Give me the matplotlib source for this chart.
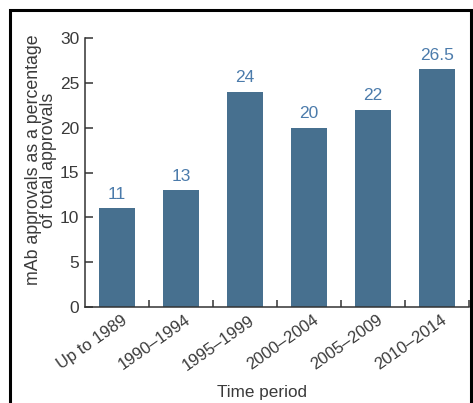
import matplotlib
matplotlib.use("Agg")
import matplotlib.pyplot as plt
from matplotlib.patches import Rectangle
from matplotlib.transforms import ScaledTranslation

categories = ["Up to 1989", "1990–1994", "1995–1999", "2000–2004", "2005–2009", "2010–2014"]
values = [11, 13, 24, 20, 22, 26.5]
value_labels = ["11", "13", "24", "20", "22", "26.5"]
yticks = [0, 5, 10, 15, 20, 25, 30]

plt.rcParams['font.family'] = ['Liberation Sans', 'DejaVu Sans']

fig = plt.figure(figsize=(4.73, 4.03), dpi=100)
ax = fig.add_axes([85/473, 1-307/403, (469-85)/473, (307-38)/403])

x = list(range(len(categories)))
ax.bar(x, values, width=0.56, color="#47708f")
for xi, v, lab in zip(x, values, value_labels):
    ax.text(xi, v + 0.75, lab, ha="center", va="bottom", color="#4b7bab", fontsize=12.5)

ax.set_xlim(-0.5, 5.5)
ax.set_ylim(0, 30)
ax.set_yticks(yticks)
ax.set_yticklabels([str(t) for t in yticks])
ax.set_xticks(x)
ax.set_xticklabels(categories, rotation=35, ha="right", rotation_mode="anchor")
ax.set_xticks([i + 0.5 for i in x], minor=True)
ax.tick_params(axis="x", which="major", length=0, pad=4, labelsize=12, labelcolor="#3a3a3a")
ax.tick_params(axis="x", which="minor", length=5, direction="in", color="#333333", width=1.1)
ax.tick_params(axis="y", length=6, direction="in", color="#333333", width=1.1, pad=4,
               labelsize=12.5, labelcolor="#3a3a3a")
for lbl in ax.get_xticklabels():
    lbl.set_transform(lbl.get_transform() + ScaledTranslation(4/100, 0, fig.dpi_scale_trans))

for s in ["top", "right"]:
    ax.spines[s].set_visible(False)
for s in ["left", "bottom"]:
    ax.spines[s].set_color("#333333")
    ax.spines[s].set_linewidth(1.1)

ax.set_ylabel("mAb approvals as a percentage\nof total approvals", fontsize=12.8, color="#3a3a3a",
              linespacing=0.85)
ax.yaxis.set_label_coords((57-85)/384, (307-160)/269)
ax.set_xlabel("Time period", fontsize=12.3, color="#3a3a3a")
ax.xaxis.set_label_coords((262-85)/384, -(392-307)/269)
ax.xaxis.label.set_va("center")

fig.patches.append(Rectangle((10/473, -0.1), (471-10)/473, 1.1 - 10/403, transform=fig.transFigure,
                             fill=False, edgecolor="black", linewidth=2.2))

fig.savefig("out.png", dpi=100)
